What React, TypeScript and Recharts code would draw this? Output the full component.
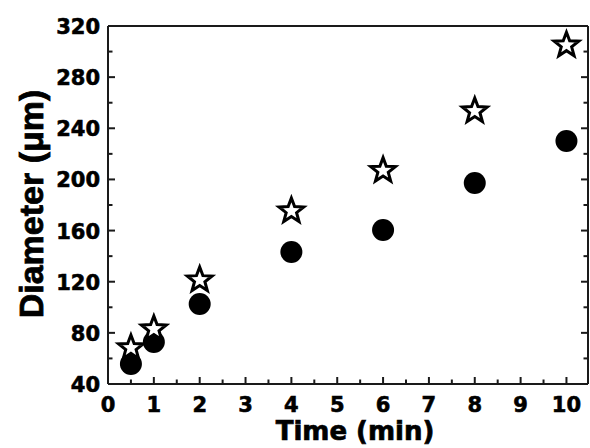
import React from 'react';
import { ScatterChart, Scatter, XAxis, YAxis } from 'recharts';

// growth data
const times = [0.5, 1, 2, 4, 6, 8, 10];
const circleDiameter = [55.6, 72.8, 102.6, 143.2, 160.4, 197.2, 230];
const starDiameter = [68.2, 83, 121.3, 175.3, 206.9, 253.5, 305];

const xTicks = [0, 0.5, 1, 1.5, 2, 2.5, 3, 3.5, 4, 4.5, 5, 5.5, 6, 6.5, 7, 7.5, 8, 8.5, 9, 9.5, 10];
const yTicks = [40, 60, 80, 100, 120, 140, 160, 180, 200, 220, 240, 260, 280, 300, 320];

const circleData = times.map((t, i) => ({ x: t, y: circleDiameter[i] }));
const starData = times.map((t, i) => ({ x: t, y: starDiameter[i] }));

const AXIS = '#1a1a1a';
const MAJOR = 7;
const MINOR = 4.5;
const tickFont = { fontFamily: '"DejaVu Sans", sans-serif', fontWeight: 700, fontSize: 21 };

const isMajorX = (v: number) => Number.isInteger(v);
const isMajorY = (v: number) => v % 40 === 0;

// custom ticks: draw an inward tick mark, and the number for major ticks
function BottomTick({ x, y, payload }: any) {
  const major = isMajorX(payload.value);
  return (
    <g>
      <line x1={x} y1={y} x2={x} y2={y - (major ? MAJOR : MINOR)} stroke={AXIS} strokeWidth={2} />
      {major && (
        <text x={x} y={y + 28} textAnchor="middle" fill="#000" stroke="#000" strokeWidth={0.6} style={tickFont}>
          {payload.value}
        </text>
      )}
    </g>
  );
}

function TopTick({ x, y, payload }: any) {
  const major = isMajorX(payload.value);
  return <line x1={x} y1={y} x2={x} y2={y + (major ? MAJOR : MINOR)} stroke={AXIS} strokeWidth={2} />;
}

function LeftTick({ x, y, payload }: any) {
  const major = isMajorY(payload.value);
  return (
    <g>
      <line x1={x} y1={y} x2={x + (major ? MAJOR : MINOR)} y2={y} stroke={AXIS} strokeWidth={2} />
      {major && (
        <text x={x - 8} y={y + 8} textAnchor="end" fill="#000" stroke="#000" strokeWidth={0.6} style={tickFont}>
          {payload.value}
        </text>
      )}
    </g>
  );
}

function RightTick({ x, y, payload }: any) {
  const major = isMajorY(payload.value);
  return <line x1={x} y1={y} x2={x - (major ? MAJOR : MINOR)} y2={y} stroke={AXIS} strokeWidth={2} />;
}

const DotShape = ({ cx, cy }: any) => <circle cx={cx} cy={cy} r={11} fill="#000" />;

const StarShape = ({ cx, cy }: any) => {
  const R = 13;
  const r = R * 0.42;
  const pts: string[] = [];
  for (let k = 0; k < 10; k++) {
    const rad = k % 2 === 0 ? R : r;
    const a = -Math.PI / 2 + (k * Math.PI) / 5;
    pts.push(`${cx + rad * Math.cos(a)},${cy + rad * Math.sin(a)}`);
  }
  return <polygon points={pts.join(' ')} fill="#fff" stroke="#000" strokeWidth={3} strokeLinejoin="miter" />;
};

const XTitle = () => (
  <text x={355} y={440} textAnchor="middle" fill="#000" stroke="#000" strokeWidth={0.7}
    style={{ fontFamily: '"DejaVu Sans", sans-serif', fontWeight: 700, fontSize: 26 }}>
    Time (min)
  </text>
);

const YTitle = () => (
  <text x={43} y={204} transform="rotate(-90 43 204)" textAnchor="middle" fill="#000" stroke="#000" strokeWidth={0.8}
    style={{ fontFamily: '"Liberation Sans", Arial, sans-serif', fontWeight: 700, fontSize: 34 }}>
    Diameter (μm)
  </text>
);

export default function App() {
  return (
    <div style={{ position: 'absolute', left: 0, top: 0, width: 590, height: 448, background: '#fff' }}>
      <ScatterChart width={590} height={448} margin={{ top: 25, right: 1, bottom: 63, left: 107 }}>
        <XAxis
          xAxisId="bottom"
          dataKey="x"
          type="number"
          domain={[0, 10.47]}
          ticks={xTicks}
          interval={0}
          height={1}
          tickSize={0}
          tickMargin={0}
          tickLine={false}
          axisLine={{ stroke: AXIS, strokeWidth: 2 }}
          tick={(p: any) => <BottomTick {...p} />}
          label={{ content: () => <XTitle /> }}
          allowDataOverflow
        />
        <XAxis
          xAxisId="top"
          orientation="top"
          type="number"
          domain={[0, 10.47]}
          ticks={xTicks}
          interval={0}
          height={1}
          tickSize={0}
          tickMargin={0}
          tickLine={false}
          axisLine={{ stroke: AXIS, strokeWidth: 2 }}
          tick={(p: any) => <TopTick {...p} />}
          allowDataOverflow
        />
        <YAxis
          yAxisId="left"
          dataKey="y"
          type="number"
          domain={[40, 320]}
          ticks={yTicks}
          interval={0}
          width={1}
          tickSize={0}
          tickMargin={0}
          tickLine={false}
          axisLine={{ stroke: AXIS, strokeWidth: 2 }}
          tick={(p: any) => <LeftTick {...p} />}
          label={{ content: () => <YTitle /> }}
          allowDataOverflow
        />
        <YAxis
          yAxisId="right"
          orientation="right"
          type="number"
          domain={[40, 320]}
          ticks={yTicks}
          interval={0}
          width={1}
          tickSize={0}
          tickMargin={0}
          tickLine={false}
          axisLine={{ stroke: AXIS, strokeWidth: 2 }}
          tick={(p: any) => <RightTick {...p} />}
          allowDataOverflow
        />
        <Scatter
          xAxisId="bottom"
          yAxisId="left"
          data={circleData}
          shape={(p: any) => <DotShape {...p} />}
          isAnimationActive={false}
        />
        <Scatter
          xAxisId="bottom"
          yAxisId="left"
          data={starData}
          shape={(p: any) => <StarShape {...p} />}
          isAnimationActive={false}
        />
      </ScatterChart>
    </div>
  );
}
